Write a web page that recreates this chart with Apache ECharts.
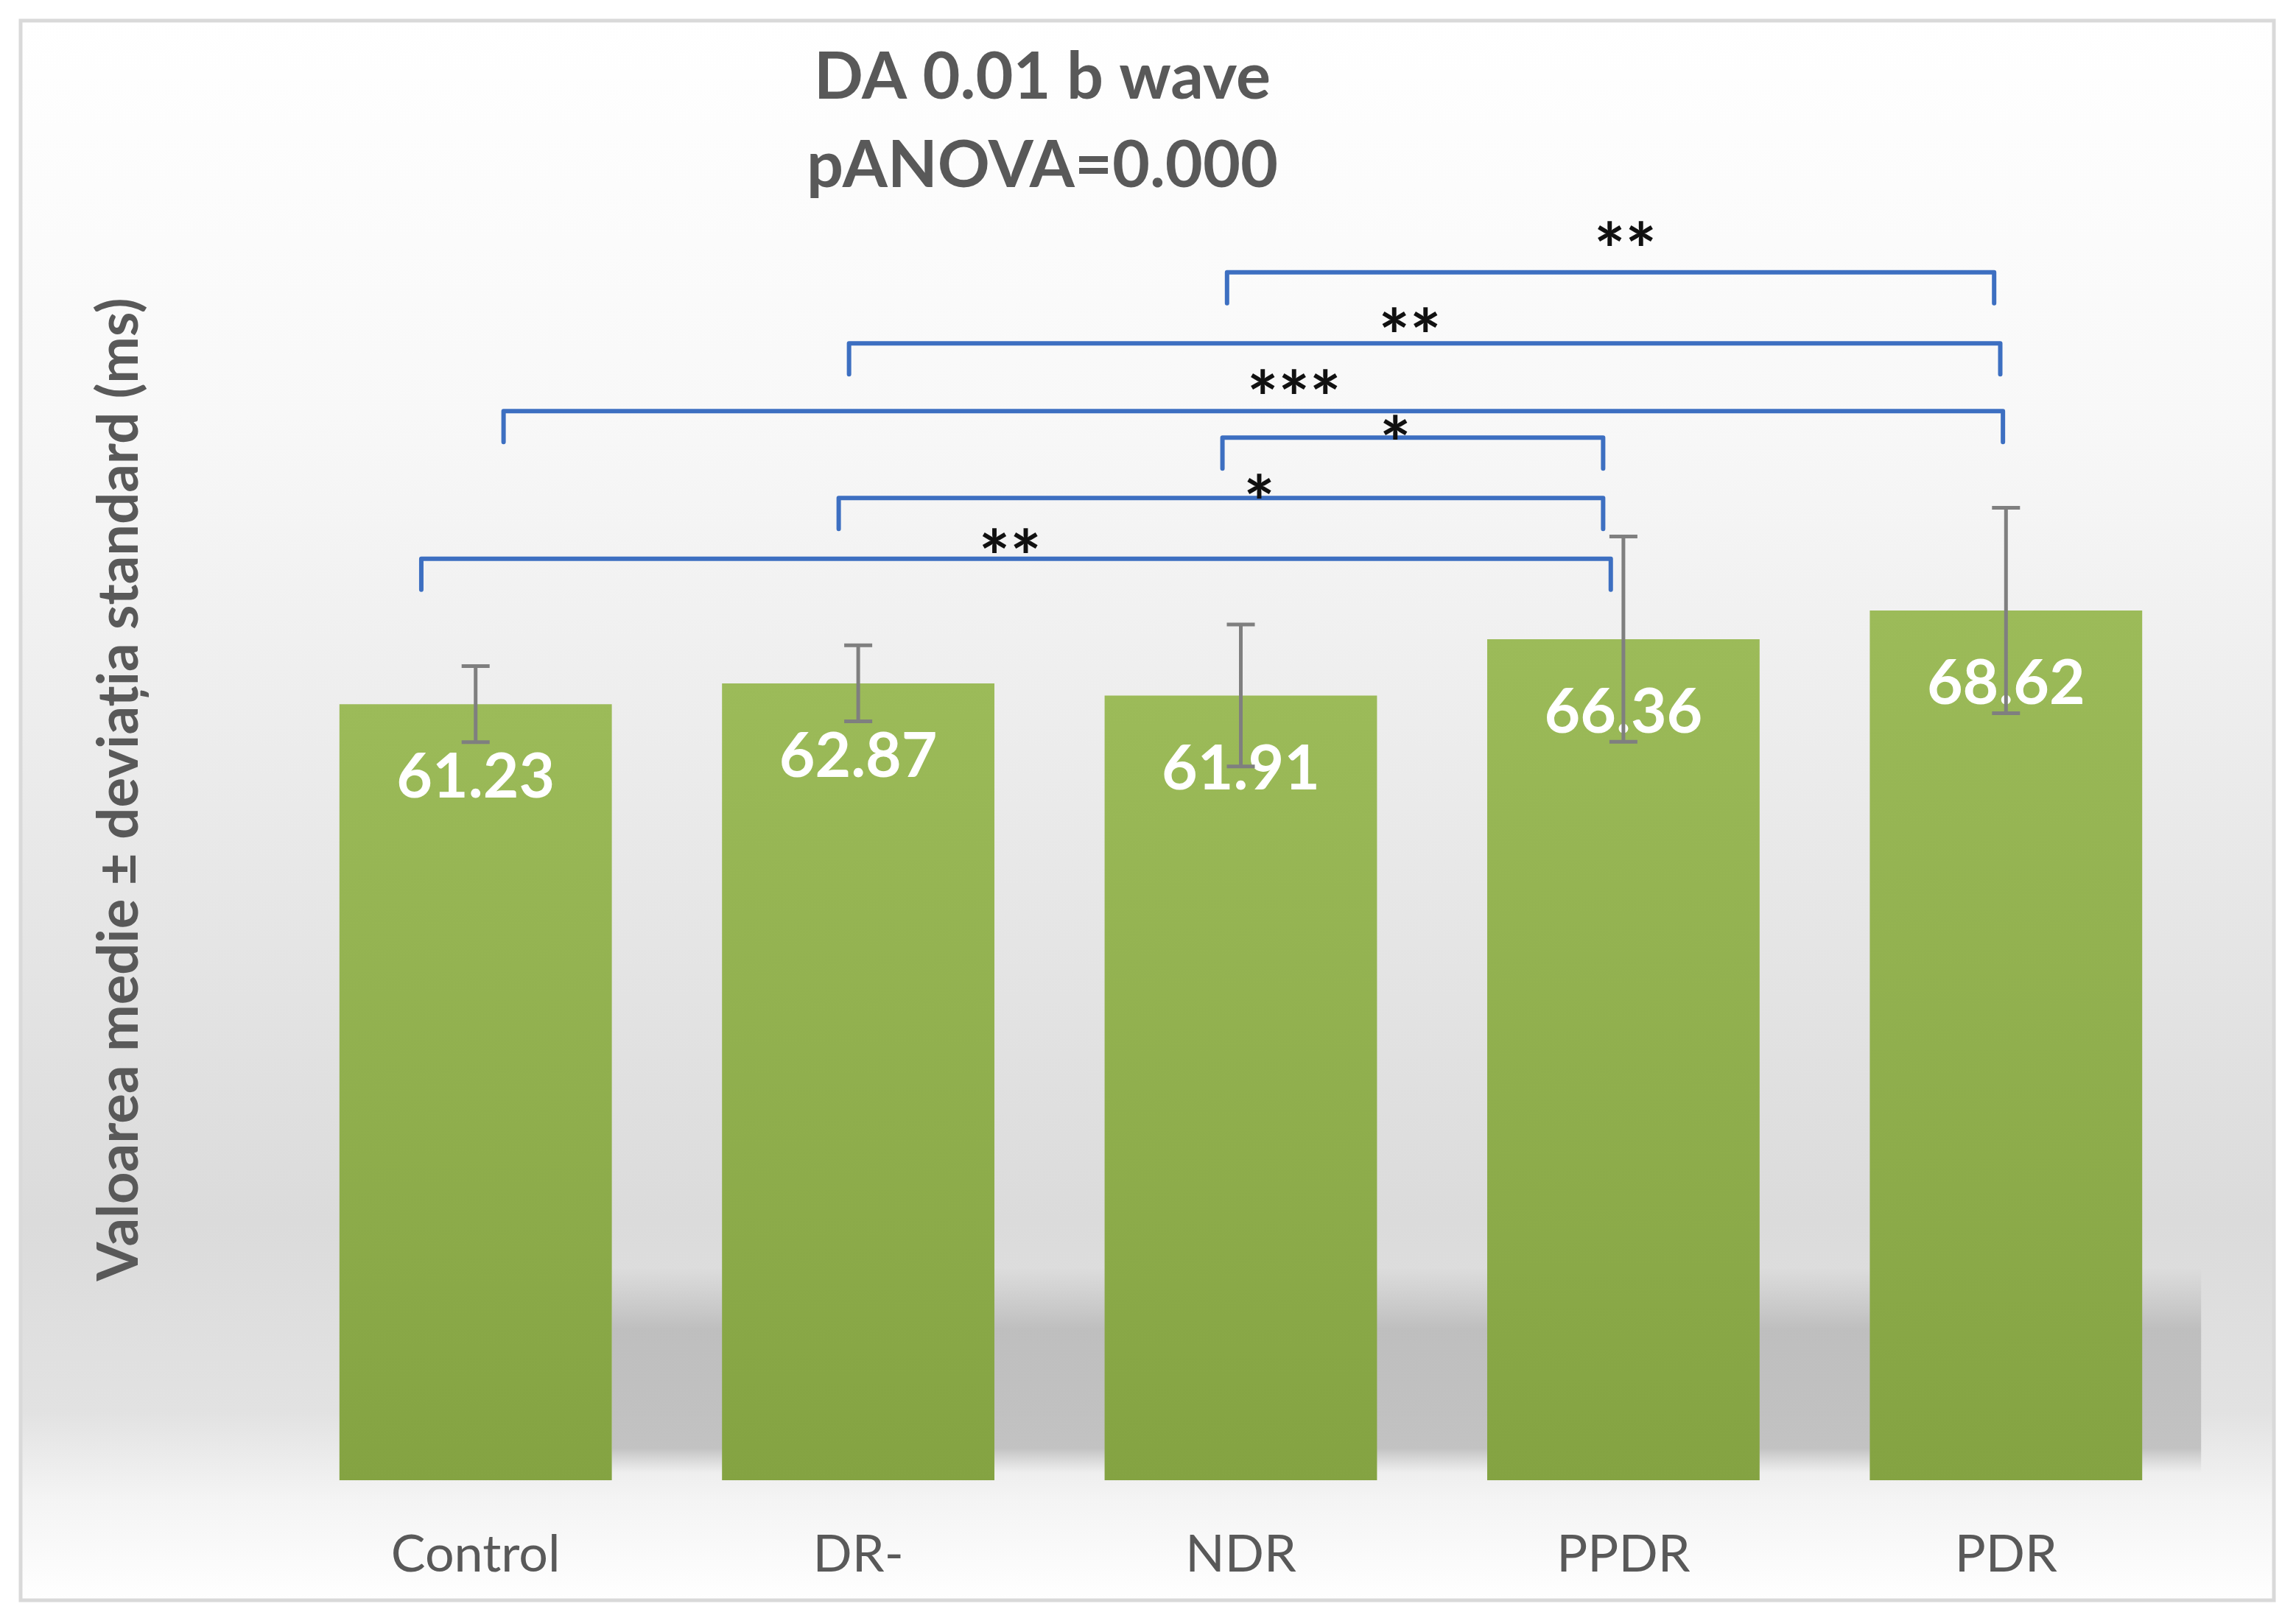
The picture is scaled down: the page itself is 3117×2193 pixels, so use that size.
<!DOCTYPE html>
<html>
<head>
<meta charset="utf-8">
<style>
  html, body { margin: 0; padding: 0; background: #ffffff; }
  #chart { width: 3117px; height: 2193px; }
</style>
<script src="https://cdn.jsdelivr.net/npm/echarts@6/dist/echarts.min.js"></script>
</head>
<body>
<div id="chart"></div>
<script>
// ---- data ----
const categories = ['Control', 'DR-', 'NDR', 'PPDR', 'PDR'];
const means = [61.23, 62.87, 61.91, 66.36, 68.62];
const sds = [3.0, 3.0, 5.6, 8.1, 8.1];
// brackets: [x start (category index units), x end, height (ms)]
const brackets = [
  [1.964, 3.969, 95.3],
  [0.976, 3.985, 89.7],
  [0.073, 3.992, 84.35],
  [1.952, 2.947, 82.26],
  [0.949, 2.947, 77.5],
  [-0.142, 2.967, 72.7]
];
// significance stars: [x (category index units), y (ms), text]
const stars = [
  [3.005, 98.3, '**'],
  [2.442, 91.55, '**'],
  [2.139, 86.67, '***'],
  [2.404, 83.07, '*'],
  [2.048, 78.4, '*'],
  [1.397, 74.1, '**']
];
const titleLines = ['DA 0.01 b wave', 'pANOVA=0.000'];
const yAxisName = 'Valoarea medie ± deviația standard (ms)';

const FONT = 'Lato';
const chart = echarts.init(document.getElementById('chart'));

const option = {
  backgroundColor: '#ffffff',
  animation: false,
  title: {
    text: titleLines.join('\n'),
    left: 1410,
    top: 41,
    textAlign: 'center',
    textStyle: { fontFamily: FONT, fontWeight: 'bold', fontSize: 88, lineHeight: 120, color: '#595959' }
  },
  graphic: [{
    type: 'rect',
    z: -10,
    silent: true,
    shape: { x: 28, y: 28, width: 3059, height: 2145 },
    style: {
      fill: new echarts.graphic.LinearGradient(0, 0, 0, 1, [
        { offset: 0, color: '#ffffff' },
        { offset: 0.25, color: '#f8f8f8' },
        { offset: 0.76, color: '#dbdbdb' },
        { offset: 0.88, color: '#e2e2e2' },
        { offset: 0.935, color: '#f4f4f4' },
        { offset: 1, color: '#ffffff' }
      ]),
      stroke: '#d9d9d9',
      lineWidth: 5
    }
  }],
  grid: { left: 386, right: 134, top: 134, bottom: 183, containLabel: false },
  xAxis: [{
    type: 'category',
    data: categories,
    axisLine: { show: false },
    axisTick: { show: false },
    splitLine: { show: false },
    axisLabel: { margin: 66, fontFamily: FONT, fontSize: 70, color: '#595959' }
  }, {
    type: 'value',
    min: -0.5,
    max: 4.5,
    show: false
  }],
  yAxis: {
    type: 'value',
    min: 0,
    max: 109,
    axisLine: { show: false },
    axisTick: { show: false },
    axisLabel: { show: false },
    splitLine: { show: false },
    name: yAxisName,
    nameLocation: 'middle',
    nameRotate: 90,
    nameGap: 186,
    nameTextStyle: { fontFamily: FONT, fontWeight: 'bold', fontSize: 76, color: '#595959' }
  },
  series: [
    {
      // floor shadow behind the bars
      type: 'custom',
      xAxisIndex: 1,
      z: 1,
      silent: true,
      data: [[0]],
      renderItem: function (params, api) {
        const bw = api.size([1, 0])[0] * 0.712;
        const p0 = api.coord([0, 16.8]);
        const p1 = api.coord([4, 0.6]);
        const x0 = p0[0] + bw / 2;
        const x1 = p1[0] + bw / 2 + 80;
        return {
          type: 'rect',
          shape: { x: x0, y: p0[1], width: x1 - x0, height: p1[1] - p0[1] },
          style: {
            fill: new echarts.graphic.LinearGradient(0, 0, 0, 1, [
              { offset: 0, color: 'rgba(185,185,185,0)' },
              { offset: 0.3, color: 'rgba(185,185,185,0.85)' },
              { offset: 0.88, color: 'rgba(190,190,190,0.9)' },
              { offset: 1, color: 'rgba(200,200,200,0)' }
            ])
          }
        };
      }
    },
    {
      type: 'bar',
      data: means,
      barWidth: '71.2%',
      z: 2,
      itemStyle: {
        color: new echarts.graphic.LinearGradient(0, 0, 0, 1, [
          { offset: 0, color: '#9cbb59' },
          { offset: 1, color: '#84a342' }
        ])
      },
      label: {
        show: true,
        position: 'insideTop',
        distance: 58,
        formatter: function (p) { return p.value.toFixed(2); },
        fontFamily: FONT,
        fontWeight: 'bold',
        fontSize: 84,
        lineHeight: 84,
        color: '#ffffff'
      }
    },
    {
      // error bars
      type: 'custom',
      xAxisIndex: 0,
      z: 5,
      data: means.map(function (m, i) { return [i, m, sds[i]]; }),
      renderItem: function (params, api) {
        const i = api.value(0), m = api.value(1), s = api.value(2);
        const top = api.coord([i, m + s]);
        const bot = api.coord([i, m - s]);
        const hw = 19;
        const st = { stroke: '#7f7f7f', lineWidth: 5 };
        return {
          type: 'group',
          children: [
            { type: 'line', shape: { x1: top[0], y1: top[1], x2: bot[0], y2: bot[1] }, style: st },
            { type: 'line', shape: { x1: top[0] - hw, y1: top[1], x2: top[0] + hw, y2: top[1] }, style: st },
            { type: 'line', shape: { x1: bot[0] - hw, y1: bot[1], x2: bot[0] + hw, y2: bot[1] }, style: st }
          ]
        };
      }
    },
    {
      // significance brackets
      type: 'custom',
      xAxisIndex: 1,
      z: 6,
      data: brackets,
      renderItem: function (params, api) {
        const a = api.coord([api.value(0), api.value(2)]);
        const b = api.coord([api.value(1), api.value(2)]);
        const tick = 42;
        return {
          type: 'polyline',
          shape: { points: [[a[0], a[1] + tick], [a[0], a[1]], [b[0], b[1]], [b[0], b[1] + tick]], smooth: 0 },
          style: { stroke: '#3d6fc1', lineWidth: 6, fill: null, lineJoin: 'round', lineCap: 'round' }
        };
      }
    },
    {
      // stars
      type: 'custom',
      xAxisIndex: 1,
      z: 7,
      data: stars,
      renderItem: function (params, api) {
        const p = api.coord([api.value(0), api.value(1)]);
        const txt = stars[params.dataIndex][2];
        const fs = 100;
        return {
          type: 'text',
          x: p[0],
          y: p[1] + fs * 0.26,
          style: {
            text: txt,
            fontFamily: FONT,
            fontWeight: 'bold',
            fontSize: fs,
            fill: '#111111',
            align: 'center',
            verticalAlign: 'middle'
          }
        };
      }
    }
  ]
};
chart.setOption(option);
</script>
</body>
</html>
